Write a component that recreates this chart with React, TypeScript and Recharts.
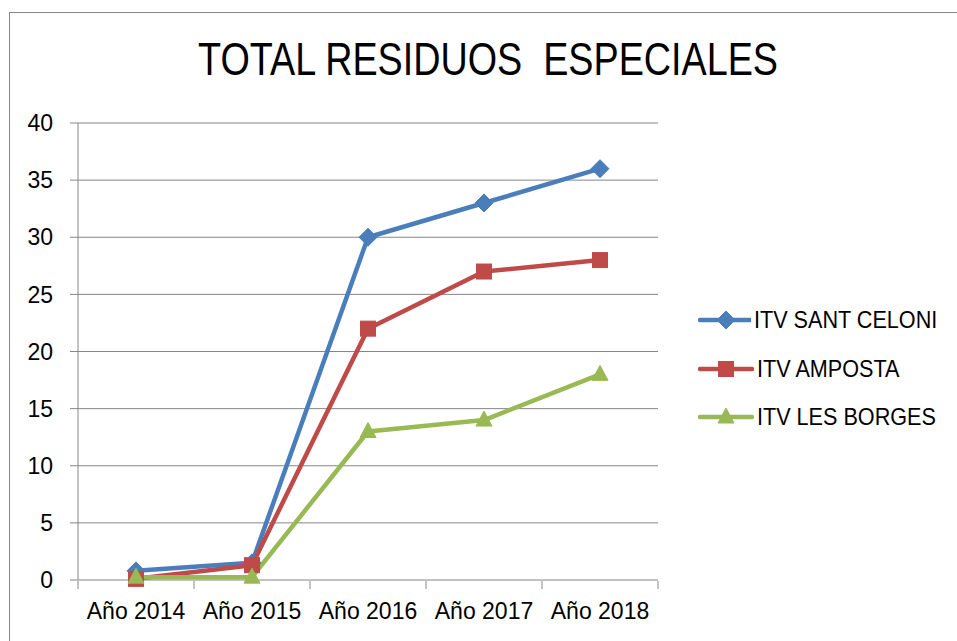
import React from 'react';
import { LineChart, Line, XAxis, YAxis, CartesianGrid, Legend } from 'recharts';

const categories = ['Año 2014', 'Año 2015', 'Año 2016', 'Año 2017', 'Año 2018'];
const santCeloni = [0.8, 1.5, 30, 33, 36];
const amposta = [0.1, 1.3, 22, 27, 28];
const lesBorges = [0.25, 0.25, 13, 14, 18];
const yTicks = [0, 5, 10, 15, 20, 25, 30, 35, 40];
const boundaryTicks = [-0.5, 0.5, 1.5, 2.5, 3.5, 4.5];

const seriesNames = ['ITV SANT CELONI', 'ITV AMPOSTA', 'ITV LES BORGES'];
const seriesColors = ['#4A7EBB', '#BE4B48', '#98B954'];
const seriesShapes = ['diamond', 'square', 'triangle'];

const data = categories.map((c, i) => ({
  name: c,
  idx: i,
  s0: santCeloni[i],
  s1: amposta[i],
  s2: lesBorges[i],
}));

const FONT = "'Liberation Sans', Arial, sans-serif";
const GRID = '#868686';

function Marker({ shape, cx, cy, color }: { shape: string; cx: number; cy: number; color: string }) {
  if (shape === 'diamond') {
    const r = 9;
    return <polygon points={`${cx},${cy - r} ${cx + r},${cy} ${cx},${cy + r} ${cx - r},${cy}`} fill={color} stroke={color} strokeWidth={1} />;
  }
  if (shape === 'square') {
    const s = 15;
    return <rect x={cx - s / 2} y={cy - s / 2} width={s} height={s} fill={color} stroke={color} strokeWidth={1} />;
  }
  const w = 16;
  const h = 15;
  return <polygon points={`${cx},${cy - h * 0.6} ${cx + w / 2},${cy + h * 0.4} ${cx - w / 2},${cy + h * 0.4}`} fill={color} stroke={color} strokeWidth={1} />;
}

const makeDot = (shape: string, color: string) => (props: any) => {
  const { cx, cy, index } = props;
  if (cx == null || cy == null) return <g key={`d-${shape}-${index}`} />;
  return <Marker key={`d-${shape}-${index}`} shape={shape} cx={cx} cy={cy} color={color} />;
};

function LegendContent() {
  return (
    <div style={{ fontFamily: FONT, fontSize: 24, color: '#000' }}>
      {seriesNames.map((n, i) => (
        <div key={n} style={{ height: 48.5, display: 'flex', alignItems: 'center' }}>
          <svg width={56} height={24} style={{ display: 'block' }}>
            <line x1={2} y1={12} x2={54} y2={12} stroke={seriesColors[i]} strokeWidth={4.5} strokeLinecap="round" />
            <Marker shape={seriesShapes[i]} cx={28} cy={12} color={seriesColors[i]} />
          </svg>
          <span
            style={{
              marginLeft: 3,
              whiteSpace: 'nowrap',
              display: 'inline-block',
              transform: 'scaleX(0.9)',
              transformOrigin: 'left center',
            }}
          >
            {n}
          </span>
        </div>
      ))}
    </div>
  );
}

export default function App() {
  return (
    <div style={{ position: 'fixed', left: 0, top: 0, width: 957, height: 641, overflow: 'hidden', background: '#fff' }}>
      <div
        style={{
          position: 'absolute',
          left: 9,
          top: 12,
          width: 960,
          height: 640,
          border: `1px solid ${GRID}`,
          background: '#fff',
        }}
      >
        <div
          style={{
            position: 'absolute',
            left: 0,
            top: 23,
            width: 956,
            textAlign: 'center',
            fontFamily: FONT,
            fontSize: 46,
            lineHeight: '46px',
            color: '#000',
            whiteSpace: 'pre',
            transform: 'scaleX(0.82)',
            transformOrigin: '478px 0',
          }}
        >
          {'TOTAL RESIDUOS  ESPECIALES'}
        </div>
        <LineChart
          width={947}
          height={628}
          data={data}
          margin={{ top: 110, right: 299, bottom: 59, left: 0 }}
        >
          <CartesianGrid vertical={false} stroke={GRID} strokeWidth={1} />
          <XAxis
            xAxisId="tick"
            type="number"
            dataKey="idx"
            domain={[-0.5, 4.5]}
            allowDataOverflow
            ticks={boundaryTicks}
            interval={0}
            height={1}
            tick={() => <g />}
            tickSize={8}
            tickLine={{ stroke: GRID }}
            axisLine={false}
          />
          <XAxis
            xAxisId="cat"
            dataKey="name"
            height={1}
            padding={{ left: 58, right: 58 }}
            tickLine={false}
            axisLine={false}
            tickSize={8}
            tickMargin={15}
            interval={0}
            tick={{ fill: '#000', fontSize: 23, fontFamily: FONT }}
          />
          <YAxis
            width={68}
            domain={[0, 40]}
            ticks={yTicks}
            interval={0}
            tickSize={8}
            tickMargin={17}
            tickLine={{ stroke: GRID }}
            axisLine={{ stroke: GRID }}
            tick={{ fill: '#000', fontSize: 23, fontFamily: FONT }}
          />
          <Legend
            layout="vertical"
            align="center"
            verticalAlign="middle"
            content={() => <LegendContent />}
            wrapperStyle={{ left: 688, top: 283, width: 260 }}
          />
          {['s0', 's1', 's2'].map((k, i) => (
            <Line
              key={k}
              xAxisId="cat"
              dataKey={k}
              name={seriesNames[i]}
              stroke={seriesColors[i]}
              strokeWidth={4.5}
              dot={makeDot(seriesShapes[i], seriesColors[i])}
              activeDot={false}
              isAnimationActive={false}
              strokeLinejoin="round"
            />
          ))}
        </LineChart>
      </div>
    </div>
  );
}
